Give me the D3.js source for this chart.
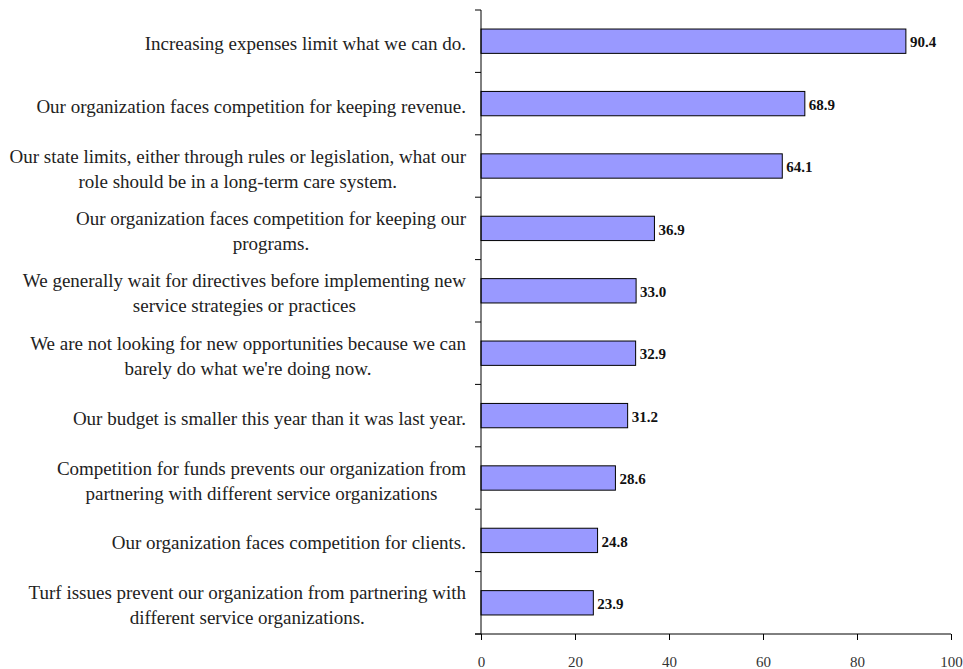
<!DOCTYPE html>
<html><head><meta charset="utf-8">
<script src="https://cdn.jsdelivr.net/npm/d3@7"></script>
<style>body{margin:0;background:#fff;}svg{display:block;}</style>
</head><body>
<svg id="c" width="963" height="669"></svg>
<script>
const categories = [
  ["Increasing expenses limit what we can do."],
  ["Our organization faces competition for keeping revenue."],
  ["Our state limits, either through rules or legislation, what our", "role should be in a long-term care system."],
  ["Our organization faces competition for keeping our", "programs."],
  ["We generally wait for directives before implementing new", "service strategies or practices"],
  ["We are not looking for new opportunities because we can", "barely do what we're doing now."],
  ["Our budget is smaller this year than it was last year."],
  ["Competition for funds prevents our organization from", "partnering with different service organizations"],
  ["Our organization faces competition for clients."],
  ["Turf issues prevent our organization from partnering with", "different service organizations."]
];
const values = [90.4, 68.9, 64.1, 36.9, 33.0, 32.9, 31.2, 28.6, 24.8, 23.9];
const xTicks = [0, 20, 40, 60, 80, 100];

const svg = d3.select("#c");
const font = "'Liberation Serif', 'Times New Roman', serif";
const x = d3.scaleLinear().domain([0, 100]).range([481, 951]);
const y = d3.scaleBand().domain(d3.range(categories.length)).range([10, 634]).paddingInner(0.61).paddingOuter(0.305);
const band = d3.scaleBand().domain(d3.range(categories.length)).range([10, 634]);

// bars
svg.selectAll("rect.bar").data(values).join("rect")
  .attr("class", "bar")
  .attr("x", x(0))
  .attr("y", (d, i) => y(i))
  .attr("width", d => x(d) - x(0))
  .attr("height", y.bandwidth())
  .attr("fill", "#9999FF")
  .attr("stroke", "#000")
  .attr("stroke-width", 1);

// value labels
svg.selectAll("text.val").data(values).join("text")
  .attr("class", "val")
  .attr("x", d => x(d) + 4)
  .attr("y", (d, i) => y(i) + y.bandwidth() / 2 + 1)
  .attr("dy", "0.35em")
  .attr("font-family", font)
  .attr("font-size", 15)
  .attr("font-weight", "bold")
  .attr("fill", "#111")
  .text(d => d.toFixed(1));

// y axis
svg.append("line").attr("x1", 481).attr("x2", 481).attr("y1", 10).attr("y2", 634).attr("stroke", "#000");
const yTickPos = d3.range(categories.length + 1).map(i => 10 + i * band.step());
svg.selectAll("line.yt").data(yTickPos).join("line").attr("class", "yt")
  .attr("x1", 475).attr("x2", 481).attr("y1", d => d).attr("y2", d => d).attr("stroke", "#000");

// x axis
const xa = svg.append("g").attr("transform", "translate(0,634)")
  .call(d3.axisBottom(x).tickValues(xTicks).tickSize(6).tickPadding(16).tickFormat(d3.format("d")));
xa.select(".domain").attr("d", "M475,0H951");
xa.selectAll("text").attr("font-family", font).attr("font-size", 15).attr("fill", "#333");

// category labels
const lab = svg.selectAll("g.lab").data(categories).join("g").attr("class", "lab");
lab.each(function(lines, i) {
  const g = d3.select(this);
  const cy = band(i) + band.step() / 2;
  const lh = 25;
  const ts = lines.map((l, k) => g.append("text")
    .attr("y", cy + (k - (lines.length - 1) / 2) * lh + 9)
    .attr("font-family", font)
    .attr("font-size", 19)
    .attr("fill", "#222")
    .attr("text-anchor", "middle")
    .text(l));
  const w = d3.max(ts, t => t.node().getComputedTextLength());
  ts.forEach(t => t.attr("x", 466 - w / 2));
});
</script>
</body></html>
